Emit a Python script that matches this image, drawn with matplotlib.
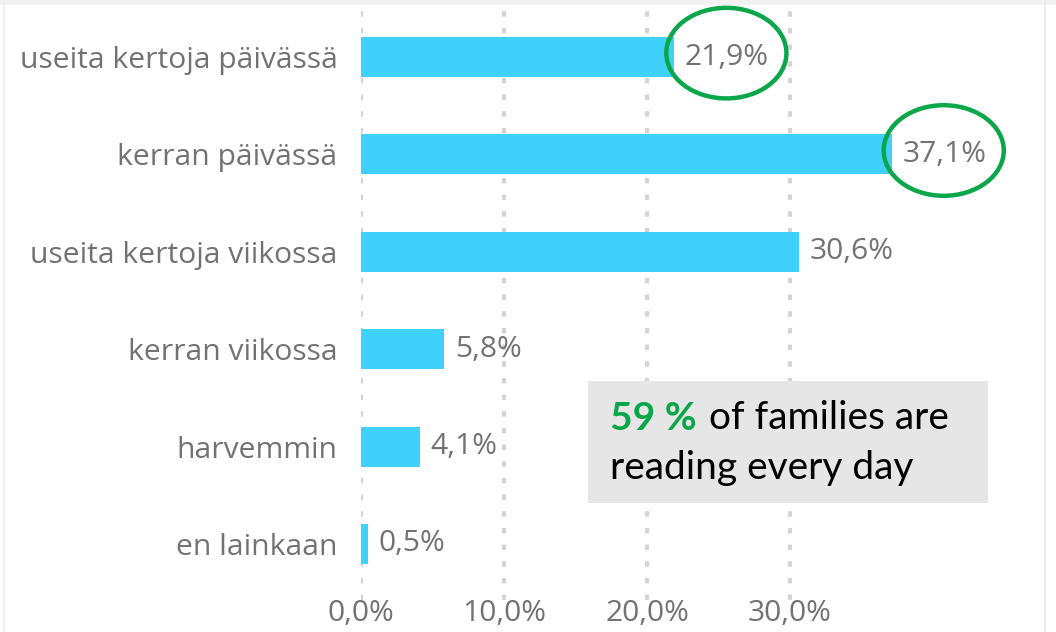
import matplotlib
matplotlib.use("Agg")
import matplotlib.pyplot as plt
from matplotlib.patches import Ellipse, Rectangle
from matplotlib.lines import Line2D

categories = ["useita kertoja päivässä", "kerran päivässä", "useita kertoja viikossa",
              "kerran viikossa", "harvemmin", "en lainkaan"]
values = [21.9, 37.1, 30.6, 5.8, 4.1, 0.5]
value_labels = ["21,9%", "37,1%", "30,6%", "5,8%", "4,1%", "0,5%"]
xticks = [0, 10, 20, 30]
xtick_labels = ["0,0%", "10,0%", "20,0%", "30,0%"]
highlight = [0, 1]

W, H = 1056, 632
fig = plt.figure(figsize=(W / 100, H / 100), dpi=100)
fig.patch.set_facecolor("white")

ax_left, ax_right = 361, 1040
ax_top, ax_bot = 5, 600
ax = fig.add_axes([ax_left / W, (H - ax_bot) / H, (ax_right - ax_left) / W, (ax_bot - ax_top) / H])
scale = 14.3  # px per %
ax.set_xlim(0, (ax_right - ax_left) / scale)
ax.set_ylim(5.575, -0.534)

grey_text = "#727272"
font = "Open Sans"
fs = 21.6

ax.set_xticks(xticks)
ax.set_xticklabels(xtick_labels, fontsize=fs, color=grey_text, family=font)
ax.set_yticks(range(len(categories)))
ax.set_yticklabels(categories, fontsize=fs, color=grey_text, family=font)
ax.tick_params(axis="x", length=0, pad=-1)
ax.tick_params(axis="y", length=0, pad=17)
for s in ax.spines.values():
    s.set_visible(False)

ax.grid(axis="x", color="#d4d4d4", linewidth=3, linestyle=(0, (1.3, 2.7)))
ax.set_axisbelow(True)

ax.barh(range(len(categories)), values, height=0.41, color="#40d0fc", zorder=2)

for i, (v, lab) in enumerate(zip(values, value_labels)):
    ax.text(v + 0.75, i, lab, va="center", ha="left", fontsize=fs, color=grey_text, family=font, zorder=3)

for i in highlight:
    ax.add_patch(Ellipse((values[i] + 3.65, i - 0.04), width=8.4, height=0.93,
                         fill=False, edgecolor="#0aa64a", linewidth=3.2, zorder=4, clip_on=False))

# annotation box
fig.patches.append(Rectangle((588 / W, (H - 503) / H), 400 / W, 122 / H,
                             transform=fig.transFigure, facecolor="#e6e6e6", edgecolor="none", zorder=5))
t1 = fig.text(610 / W, (H - 418) / H, "59 %", fontsize=28, color="#0aa64a", fontweight="bold",
              family="Lato", va="center", ha="left", zorder=6)
fig.canvas.draw()
bb = t1.get_window_extent(renderer=fig.canvas.get_renderer())
fig.text((bb.x1 + 12) / W, (H - 418) / H, "of families are", fontsize=28, color="black",
         family="Lato", va="center", ha="left", zorder=6)
fig.text(610 / W, (H - 468) / H, "reading every day", fontsize=28, color="black",
         family="Lato", va="center", ha="left", zorder=6)

# faint frame remnants
fig.patches.append(Rectangle((0, (H - 5) / H), 1, 5 / H, transform=fig.transFigure,
                             facecolor="#f2f2f2", edgecolor="none", zorder=0))
fig.lines.append(Line2D([1045 / W, 1045 / W], [0, 1], transform=fig.transFigure,
                        color="#ececec", linewidth=1.5))
fig.lines.append(Line2D([4 / W, 4 / W], [0, 1], transform=fig.transFigure,
                        color="#f0f0f0", linewidth=1.5))

fig.savefig("out.png", dpi=100)
